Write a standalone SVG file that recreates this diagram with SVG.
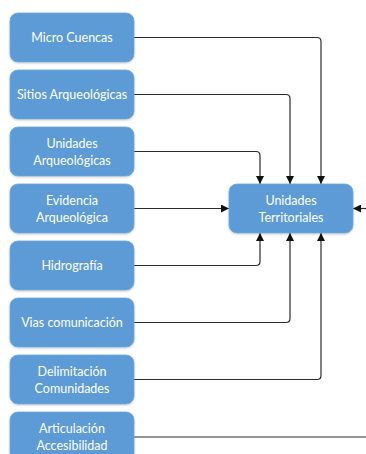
<svg xmlns="http://www.w3.org/2000/svg" width="366" height="454" viewBox="0 0 366 454">
<style>
.box{fill:#5B9BD5;stroke:#6FA8DC;stroke-width:0.8}
.lbl{fill:#ffffff;font-family:Lato,"Liberation Sans",Arial,sans-serif;font-size:12.5px;text-anchor:middle}
.con{fill:none;stroke:#2b2b2b;stroke-width:1.2}
</style>
<defs>
<marker id="ah" viewBox="0 0 10 10" refX="10" refY="5" markerWidth="8" markerHeight="8" markerUnits="userSpaceOnUse" orient="auto">
<path d="M0,0 L10,5 L0,10 z" fill="#111"/>
</marker>
<filter id="sh" x="-10%" y="-10%" width="130%" height="140%">
<feDropShadow dx="0" dy="1" stdDeviation="1" flood-color="#000" flood-opacity="0.2"/>
</filter>
</defs>
<rect width="366" height="454" fill="#ffffff"/>
<g id="connectors">
<path class="con" d="M134,37.5 H317 Q321,37.5 321,41.5 V184" marker-end="url(#ah)"/>
<path class="con" d="M134,94.5 H286 Q290,94.5 290,98.5 V184" marker-end="url(#ah)"/>
<path class="con" d="M134,151.5 H256 Q260,151.5 260,155.5 V184" marker-end="url(#ah)"/>
<path class="con" d="M134,208.5 H229" marker-end="url(#ah)"/>
<path class="con" d="M366,208.5 H353" marker-end="url(#ah)"/>
<path class="con" d="M134,265.5 H256 Q260,265.5 260,261.5 V233" marker-end="url(#ah)"/>
<path class="con" d="M134,322.5 H286 Q290,322.5 290,318.5 V233" marker-end="url(#ah)"/>
<path class="con" d="M134,379.5 H317 Q321,379.5 321,375.5 V233" marker-end="url(#ah)"/>
<path class="con" d="M134,437 H366"/>
</g>
<g id="n1"><rect class="box" filter="url(#sh)" x="10" y="13" width="124" height="49" rx="8"/><text class="lbl" x="72" y="42">Micro Cuencas</text></g>
<g id="n2"><rect class="box" filter="url(#sh)" x="10" y="70" width="124" height="49" rx="8"/><text class="lbl" x="72" y="99">Sitios Arqueológicas</text></g>
<g id="n3"><rect class="box" filter="url(#sh)" x="10" y="127" width="124" height="49" rx="8"/><text class="lbl" x="72" y="147.5">Unidades</text><text class="lbl" x="72" y="164.5">Arqueológicas</text></g>
<g id="n4"><rect class="box" filter="url(#sh)" x="10" y="184" width="124" height="49" rx="8"/><text class="lbl" x="72" y="204.5">Evidencia</text><text class="lbl" x="72" y="221.5">Arqueológica</text></g>
<g id="n5"><rect class="box" filter="url(#sh)" x="10" y="241" width="124" height="49" rx="8"/><text class="lbl" x="72" y="270">Hidrografía</text></g>
<g id="n6"><rect class="box" filter="url(#sh)" x="10" y="298" width="124" height="49" rx="8"/><text class="lbl" x="72" y="327">Vias comunicación</text></g>
<g id="n7"><rect class="box" filter="url(#sh)" x="10" y="355" width="124" height="49" rx="8"/><text class="lbl" x="72" y="375.5">Delimitación</text><text class="lbl" x="72" y="392.5">Comunidades</text></g>
<g id="n8"><rect class="box" filter="url(#sh)" x="10" y="412" width="124" height="49" rx="8"/><text class="lbl" x="72" y="432.5">Articulación</text><text class="lbl" x="72" y="449.5">Accesibilidad</text></g>
<g id="center"><rect class="box" filter="url(#sh)" x="229" y="184" width="124" height="49" rx="8"/><text class="lbl" x="291" y="204.5">Unidades</text><text class="lbl" x="291" y="221.5">Territoriales</text></g>
</svg>
